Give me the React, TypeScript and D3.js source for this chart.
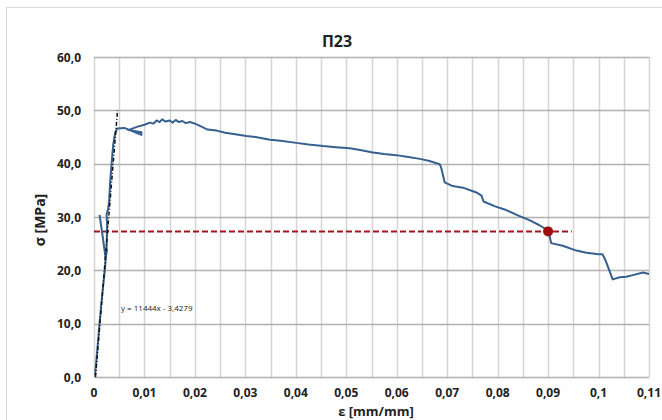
import * as d3 from "d3";
import { useEffect, useRef } from "react";

// measured stress-strain curve (strain mm/mm, stress MPa)
const mainCurve: [number, number][] = [
  [0.0002, 0.3], [0.0006, 4.5], [0.001, 9.0], [0.0014, 13.2], [0.0018, 17.0],
  [0.0022, 20.5], [0.0025, 24.5], [0.0026, 28.5], [0.0025, 30.5], [0.0028, 31.5],
  [0.003, 33.0], [0.0032, 36.5], [0.0035, 40.2], [0.0038, 43.5], [0.0042, 45.8],
  [0.0046, 46.6], [0.006, 46.7], [0.0094, 45.4], [0.0094, 45.9], [0.0068, 46.3],
  [0.0085, 46.9], [0.01, 47.3], [0.0111, 47.7], [0.0118, 47.5], [0.0124, 48.1],
  [0.013, 47.8], [0.0135, 48.3], [0.0142, 47.9], [0.015, 48.1], [0.0156, 47.7],
  [0.0162, 48.2], [0.0168, 47.8], [0.0175, 48.0], [0.0182, 47.6], [0.019, 47.8],
  [0.02, 47.5], [0.0212, 47.0], [0.0225, 46.4], [0.0243, 46.2], [0.026, 45.8],
  [0.028, 45.5], [0.0302, 45.2], [0.032, 45.0], [0.0349, 44.5], [0.037, 44.3],
  [0.0401, 43.9], [0.0425, 43.6], [0.0454, 43.3], [0.048, 43.1], [0.0507, 42.9],
  [0.053, 42.5], [0.0553, 42.1], [0.0575, 41.8], [0.0599, 41.6], [0.062, 41.3],
  [0.0646, 40.9], [0.0665, 40.5], [0.0685, 39.9], [0.0688, 39.3], [0.0695, 36.5],
  [0.0711, 35.8], [0.0731, 35.5], [0.0758, 34.6], [0.0768, 34.0], [0.0772, 32.9],
  [0.0795, 32.0], [0.0817, 31.3], [0.084, 30.3], [0.0863, 29.4], [0.0882, 28.5],
  [0.09, 27.5], [0.0903, 26.5], [0.0906, 25.1], [0.0929, 24.6], [0.0956, 23.7],
  [0.0976, 23.3], [0.1, 23.0], [0.1008, 23.0], [0.1015, 21.6], [0.1028, 18.3],
  [0.1042, 18.7], [0.1055, 18.8], [0.1068, 19.1], [0.1088, 19.6], [0.11, 19.3],
];

const tailCurve: [number, number][] = [
  [0.0011, 30.4], [0.0017, 26.5], [0.0023, 22.3], [0.0026, 24.0],
];

// linear fit of the elastic part: y = 11444x - 3,4279
const fitSlope = 11444;
const fitIntercept = -3.4279;
const fitStressRange = [0, 50];

const limitStress = 27.3;
const limitStrain = 0.09;
const limitLineEnd = 0.0947;

const xTicks = [0, 0.01, 0.02, 0.03, 0.04, 0.05, 0.06, 0.07, 0.08, 0.09, 0.1, 0.11];
const xTickLabels = ["0", "0,01", "0,02", "0,03", "0,04", "0,05", "0,06", "0,07", "0,08", "0,09", "0,1", "0,11"];
const yTicks = [0, 10, 20, 30, 40, 50, 60];

export default function App() {
  const ref = useRef<SVGSVGElement>(null);
  const width = 662,
    height = 420;
  const left = 94,
    right = 649,
    top = 57,
    bottom = 377;

  useEffect(() => {
    const svg = d3.select(ref.current);
    svg.selectAll("*").remove();
    const font = "'Open Sans', 'Liberation Sans', sans-serif";

    const x = d3.scaleLinear().domain([0, 0.11]).range([left, right]);
    const y = d3.scaleLinear().domain([0, 60]).range([bottom, top]);

    svg.append("rect").attr("width", width).attr("height", height).attr("fill", "#fff");
    svg
      .append("rect")
      .attr("x", 6.5)
      .attr("y", 7.5)
      .attr("width", 700)
      .attr("height", 450)
      .attr("fill", "none")
      .attr("stroke", "#d9d9d9");

    // grid
    const vGrid = d3.range(0, 0.1101, 0.005);
    svg
      .append("g")
      .selectAll("line")
      .data(vGrid)
      .join("line")
      .attr("x1", (d) => Math.round(x(d)) + 0.5)
      .attr("x2", (d) => Math.round(x(d)) + 0.5)
      .attr("y1", top)
      .attr("y2", bottom)
      .attr("stroke", "#d4d4d4")
      .attr("stroke-width", 1.5);

    svg
      .append("g")
      .selectAll("line")
      .data(yTicks)
      .join("line")
      .attr("x1", left)
      .attr("x2", right)
      .attr("y1", (d) => Math.round(y(d)) + 0.5)
      .attr("y2", (d) => Math.round(y(d)) + 0.5)
      .attr("stroke", "#b0b0b0")
      .attr("stroke-width", 1.5);

    // axes labels
    svg
      .append("g")
      .selectAll("text")
      .data(yTicks)
      .join("text")
      .attr("x", 81)
      .attr("y", (d) => y(d) + 4.5)
      .attr("text-anchor", "end")
      .attr("font-family", font)
      .attr("font-weight", "bold")
      .attr("font-size", 12)
      .attr("fill", "#222")
      .text((d) => d3.format(".1f")(d).replace(".", ","));

    svg
      .append("g")
      .selectAll("text")
      .data(xTicks)
      .join("text")
      .attr("x", (d) => x(d))
      .attr("y", 397)
      .attr("text-anchor", "middle")
      .attr("font-family", font)
      .attr("font-weight", "bold")
      .attr("font-size", 12)
      .attr("fill", "#222")
      .text((d, i) => xTickLabels[i]);

    svg
      .append("text")
      .attr("x", 337)
      .attr("y", 47)
      .attr("text-anchor", "middle")
      .attr("font-family", font)
      .attr("font-weight", "bold")
      .attr("font-size", 16)
      .attr("fill", "#222")
      .text("П23");

    svg
      .append("text")
      .attr("x", 376)
      .attr("y", 416)
      .attr("text-anchor", "middle")
      .attr("font-family", font)
      .attr("font-weight", "bold")
      .attr("font-size", 13)
      .attr("fill", "#222")
      .text("ε [mm/mm]");

    svg
      .append("text")
      .attr("transform", "translate(45, 220) rotate(-90)")
      .attr("text-anchor", "middle")
      .attr("font-family", font)
      .attr("font-weight", "bold")
      .attr("font-size", 14)
      .attr("fill", "#222")
      .text("σ [MPa]");

    const plot = svg.append("g");
    const line = d3
      .line<[number, number]>()
      .x((d) => x(d[0]))
      .y((d) => y(d[1]));

    // red limit line
    plot
      .append("line")
      .attr("x1", x(0))
      .attr("x2", x(limitLineEnd))
      .attr("y1", y(limitStress))
      .attr("y2", y(limitStress))
      .attr("stroke", "#a3141c")
      .attr("stroke-width", 2)
      .attr("stroke-dasharray", "6,3");

    [tailCurve, mainCurve].forEach((c) =>
      plot
        .append("path")
        .attr("d", line(c))
        .attr("fill", "none")
        .attr("stroke", "#35608f")
        .attr("stroke-width", 2)
        .attr("stroke-linejoin", "round")
    );

    // fit line
    const fitPts: [number, number][] = fitStressRange.map((s) => [(s - fitIntercept) / fitSlope, s]);
    plot
      .append("path")
      .attr("d", line(fitPts))
      .attr("fill", "none")
      .attr("stroke", "#111")
      .attr("stroke-width", 1.5)
      .attr("stroke-dasharray", "4,2,1,2");

    plot
      .append("circle")
      .attr("cx", x(limitStrain))
      .attr("cy", y(limitStress))
      .attr("r", 5)
      .attr("fill", "#a00d0d");

    svg
      .append("text")
      .attr("x", 121)
      .attr("y", 311)
      .attr("font-family", font)
      .attr("font-size", 8)
      .attr("fill", "#222")
      .text("y = 11444x - 3,4279");
  }, []);

  return (
    <svg
      ref={ref}
      width={width}
      height={height}
      style={{ position: "absolute", left: 0, top: 0, display: "block" }}
    />
  );
}
